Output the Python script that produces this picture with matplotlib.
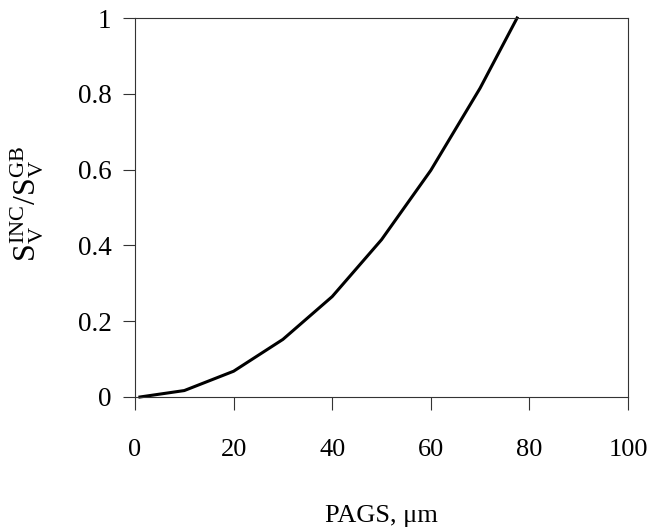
import matplotlib
matplotlib.use("Agg")
import matplotlib.pyplot as plt

pags = [1, 10, 20, 30, 40, 50, 60, 70, 77.5]
ratio = [0.0, 0.017, 0.068, 0.152, 0.265, 0.415, 0.598, 0.815, 1.0]
xticks = [0, 20, 40, 60, 80, 100]
yticks = [0, 0.2, 0.4, 0.6, 0.8, 1.0]
ytick_labels = ["0", "0.2", "0.4", "0.6", "0.8", "1"]

plt.rcParams['font.family'] = ['Liberation Serif', 'DejaVu Serif']
plt.rcParams['mathtext.fontset'] = 'custom'
plt.rcParams['mathtext.rm'] = 'Liberation Serif'
plt.rcParams['mathtext.it'] = 'Liberation Serif:italic'

fig = plt.figure(figsize=(6.52, 5.27), dpi=100)
ax = fig.add_axes([135/652, 1 - 397/527, (628-135)/652, (397-18)/527])
ax.plot(pags, ratio, color='black', linewidth=2.2, clip_on=False)
ax.set_xlim(0, 100)
ax.set_ylim(0, 1)
ax.set_xticks(xticks)
ax.set_xticklabels([str(t) for t in xticks])
ax.set_yticks(yticks)
ax.set_yticklabels(ytick_labels)
for s in ax.spines.values():
    s.set_linewidth(0.8)
    s.set_color('#333333')
ax.tick_params(axis='x', direction='out', length=9, width=0.8, pad=21, labelsize=19, color='#333333')
ax.tick_params(axis='y', direction='out', length=9, width=0.8, pad=8, labelsize=19.5, color='#333333')
ax.set_xlabel('PAGS, μm', fontsize=19)
ax.xaxis.set_label_coords(0.5, -0.285)
ax.set_ylabel(r'$\mathrm{S_V^{INC}/S_V^{GB}}$', fontsize=23)
ax.yaxis.set_label_coords(-0.18, 0.51)
fig.savefig('out.png', dpi=100)
